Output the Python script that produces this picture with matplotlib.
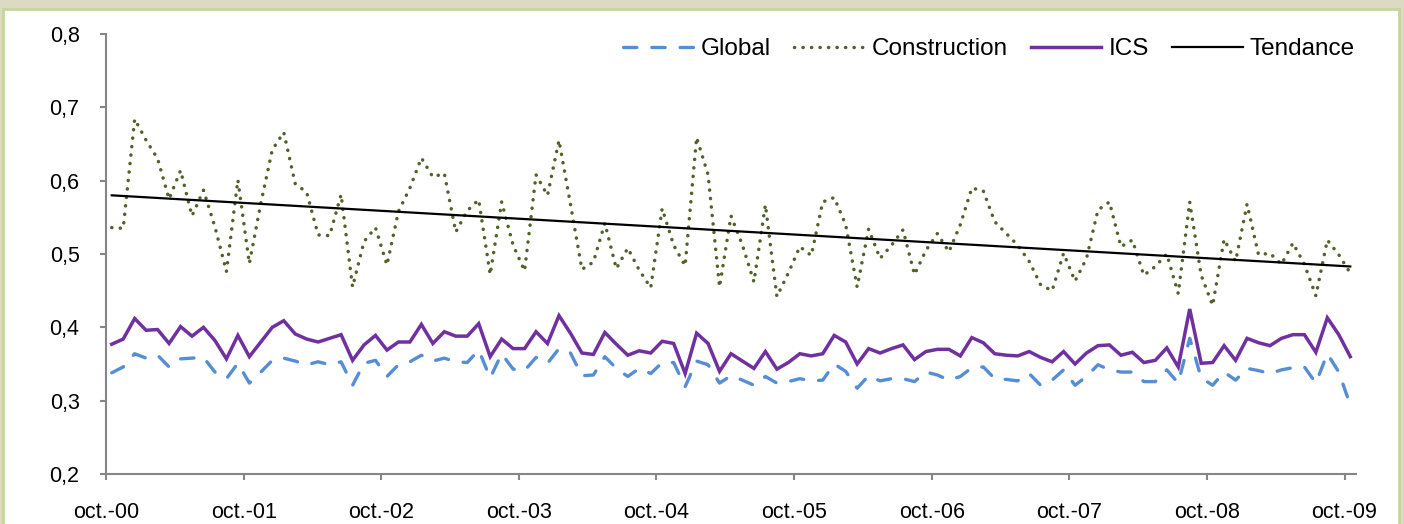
import matplotlib
matplotlib.use("Agg")
import matplotlib.pyplot as plt
from matplotlib.patches import Rectangle
import numpy as np

plt.rcParams['font.family'] = ['Liberation Sans', 'DejaVu Sans']

# Monthly data, Oct 2000 .. Oct 2009 (109 months)
tick_labels = ["oct.-00", "oct.-01", "oct.-02", "oct.-03", "oct.-04",
               "oct.-05", "oct.-06", "oct.-07", "oct.-08", "oct.-09"]

global_vals = [
    0.338, 0.346, 0.364, 0.358, 0.362, 0.346, 0.357, 0.358, 0.359, 0.339,
    0.330, 0.351, 0.324, 0.339, 0.355, 0.358, 0.354, 0.349, 0.353, 0.349,
    0.353, 0.321, 0.351, 0.355, 0.333, 0.349, 0.353, 0.362, 0.354, 0.358,
    0.353, 0.352, 0.369, 0.331, 0.364, 0.343, 0.341, 0.359, 0.351, 0.371,
    0.365, 0.334, 0.335, 0.360, 0.344, 0.333, 0.344, 0.337, 0.352, 0.352,
    0.319, 0.354, 0.349, 0.324, 0.334, 0.328, 0.321, 0.333, 0.324, 0.326,
    0.330, 0.327, 0.328, 0.350, 0.340, 0.317, 0.334, 0.327, 0.330, 0.330,
    0.326, 0.339, 0.335, 0.328, 0.333, 0.345, 0.346, 0.330, 0.329, 0.327,
    0.337, 0.321, 0.328, 0.342, 0.321, 0.333, 0.349, 0.342, 0.339, 0.339,
    0.326, 0.326, 0.342, 0.324, 0.385, 0.331, 0.321, 0.339, 0.328, 0.344,
    0.341, 0.337, 0.342, 0.345, 0.346, 0.324, 0.364, 0.339, 0.294]

construction_vals = [
    0.536, 0.535, 0.684, 0.655, 0.630, 0.575, 0.614, 0.552, 0.587, 0.537,
    0.476, 0.601, 0.487, 0.569, 0.642, 0.666, 0.596, 0.584, 0.526, 0.525,
    0.581, 0.455, 0.517, 0.536, 0.485, 0.558, 0.590, 0.631, 0.605, 0.610,
    0.530, 0.559, 0.574, 0.472, 0.571, 0.512, 0.477, 0.608, 0.580, 0.655,
    0.568, 0.479, 0.489, 0.542, 0.480, 0.508, 0.478, 0.454, 0.562, 0.512,
    0.484, 0.659, 0.608, 0.455, 0.552, 0.512, 0.462, 0.567, 0.442, 0.474,
    0.510, 0.498, 0.571, 0.577, 0.540, 0.455, 0.534, 0.494, 0.512, 0.533,
    0.472, 0.505, 0.528, 0.503, 0.540, 0.590, 0.586, 0.544, 0.528, 0.512,
    0.490, 0.458, 0.450, 0.501, 0.463, 0.494, 0.560, 0.571, 0.510, 0.519,
    0.471, 0.483, 0.500, 0.446, 0.571, 0.471, 0.430, 0.520, 0.490, 0.568,
    0.499, 0.501, 0.486, 0.515, 0.486, 0.443, 0.519, 0.499, 0.474]

ics_vals = [
    0.377, 0.384, 0.412, 0.396, 0.397, 0.378, 0.401, 0.388, 0.400, 0.382,
    0.357, 0.389, 0.360, 0.380, 0.400, 0.409, 0.391, 0.384, 0.380, 0.385,
    0.390, 0.355, 0.376, 0.389, 0.369, 0.380, 0.380, 0.404, 0.378, 0.394,
    0.388, 0.388, 0.405, 0.360, 0.384, 0.371, 0.371, 0.394, 0.378, 0.416,
    0.392, 0.365, 0.363, 0.393, 0.377, 0.362, 0.368, 0.365, 0.381, 0.378,
    0.337, 0.392, 0.378, 0.340, 0.364, 0.354, 0.344, 0.367, 0.343, 0.352,
    0.364, 0.361, 0.364, 0.389, 0.380, 0.350, 0.371, 0.365, 0.371, 0.376,
    0.356, 0.367, 0.370, 0.370, 0.361, 0.386, 0.379, 0.364, 0.362, 0.361,
    0.367, 0.359, 0.353, 0.367, 0.350, 0.365, 0.375, 0.376, 0.362, 0.366,
    0.352, 0.355, 0.372, 0.346, 0.425, 0.351, 0.352, 0.375, 0.355, 0.385,
    0.379, 0.375, 0.385, 0.390, 0.390, 0.366, 0.413, 0.390, 0.360]

# Linear trend of the construction series
trend_start = 0.580
trend_end = 0.483

n = len(ics_vals)
x = np.arange(n) + 0.5

fig = plt.figure(figsize=(14.04, 5.24), dpi=100)
fig.patch.set_facecolor('#DDD9C3')
frame = Rectangle((3 / 1404, -0.05), 1396 / 1404, 1.05 - 9 / 524,
                  transform=fig.transFigure, facecolor='white',
                  edgecolor='#C3D69B', linewidth=2.0, zorder=0)
fig.patches.append(frame)

ax = fig.add_axes([106 / 1404, 1 - 474 / 524, 1250 / 1404, 440 / 524])
ax.set_zorder(5)
ax.set_facecolor('none')

ax.plot(x, global_vals, color='#558ED5', lw=2.4, ls=(0, (4.0, 4.5)),
        label='Global', dash_capstyle='round')
ax.plot(x, construction_vals, color='#4F6228', lw=2.5, ls=(0, (0.05, 2.4)),
        label='Construction', dash_capstyle='round')
ax.plot(x, ics_vals, color='#7030A0', lw=2.5, label='ICS',
        solid_joinstyle='miter')
ax.plot([x[0], x[-1]], [trend_start, trend_end], color='black', lw=1.6,
        label='Tendance')

ax.set_xlim(0, n)
ax.set_ylim(0.2, 0.8)
ax.set_yticks([0.2, 0.3, 0.4, 0.5, 0.6, 0.7, 0.8])
ax.set_yticklabels(["0,2", "0,3", "0,4", "0,5", "0,6", "0,7", "0,8"])
ax.set_xticks(np.arange(0, n, 12))
ax.set_xticklabels(tick_labels)

for side in ['top', 'right']:
    ax.spines[side].set_visible(False)
for side in ['left', 'bottom']:
    ax.spines[side].set_color('#868686')
    ax.spines[side].set_linewidth(1.5)
ax.tick_params(axis='both', colors='#868686', width=1.5, length=4,
               labelsize=15.5, labelcolor='black')
ax.tick_params(axis='y', pad=15)
ax.tick_params(axis='x', pad=16.5)

leg = ax.legend(loc='upper right', bbox_to_anchor=(1.007, 1.012), ncol=4,
                frameon=False, fontsize=17.5, handlelength=2.9,
                handletextpad=0.3, columnspacing=0.95, borderaxespad=0.0)

fig.savefig('out.png', dpi=100, facecolor=fig.get_facecolor())
